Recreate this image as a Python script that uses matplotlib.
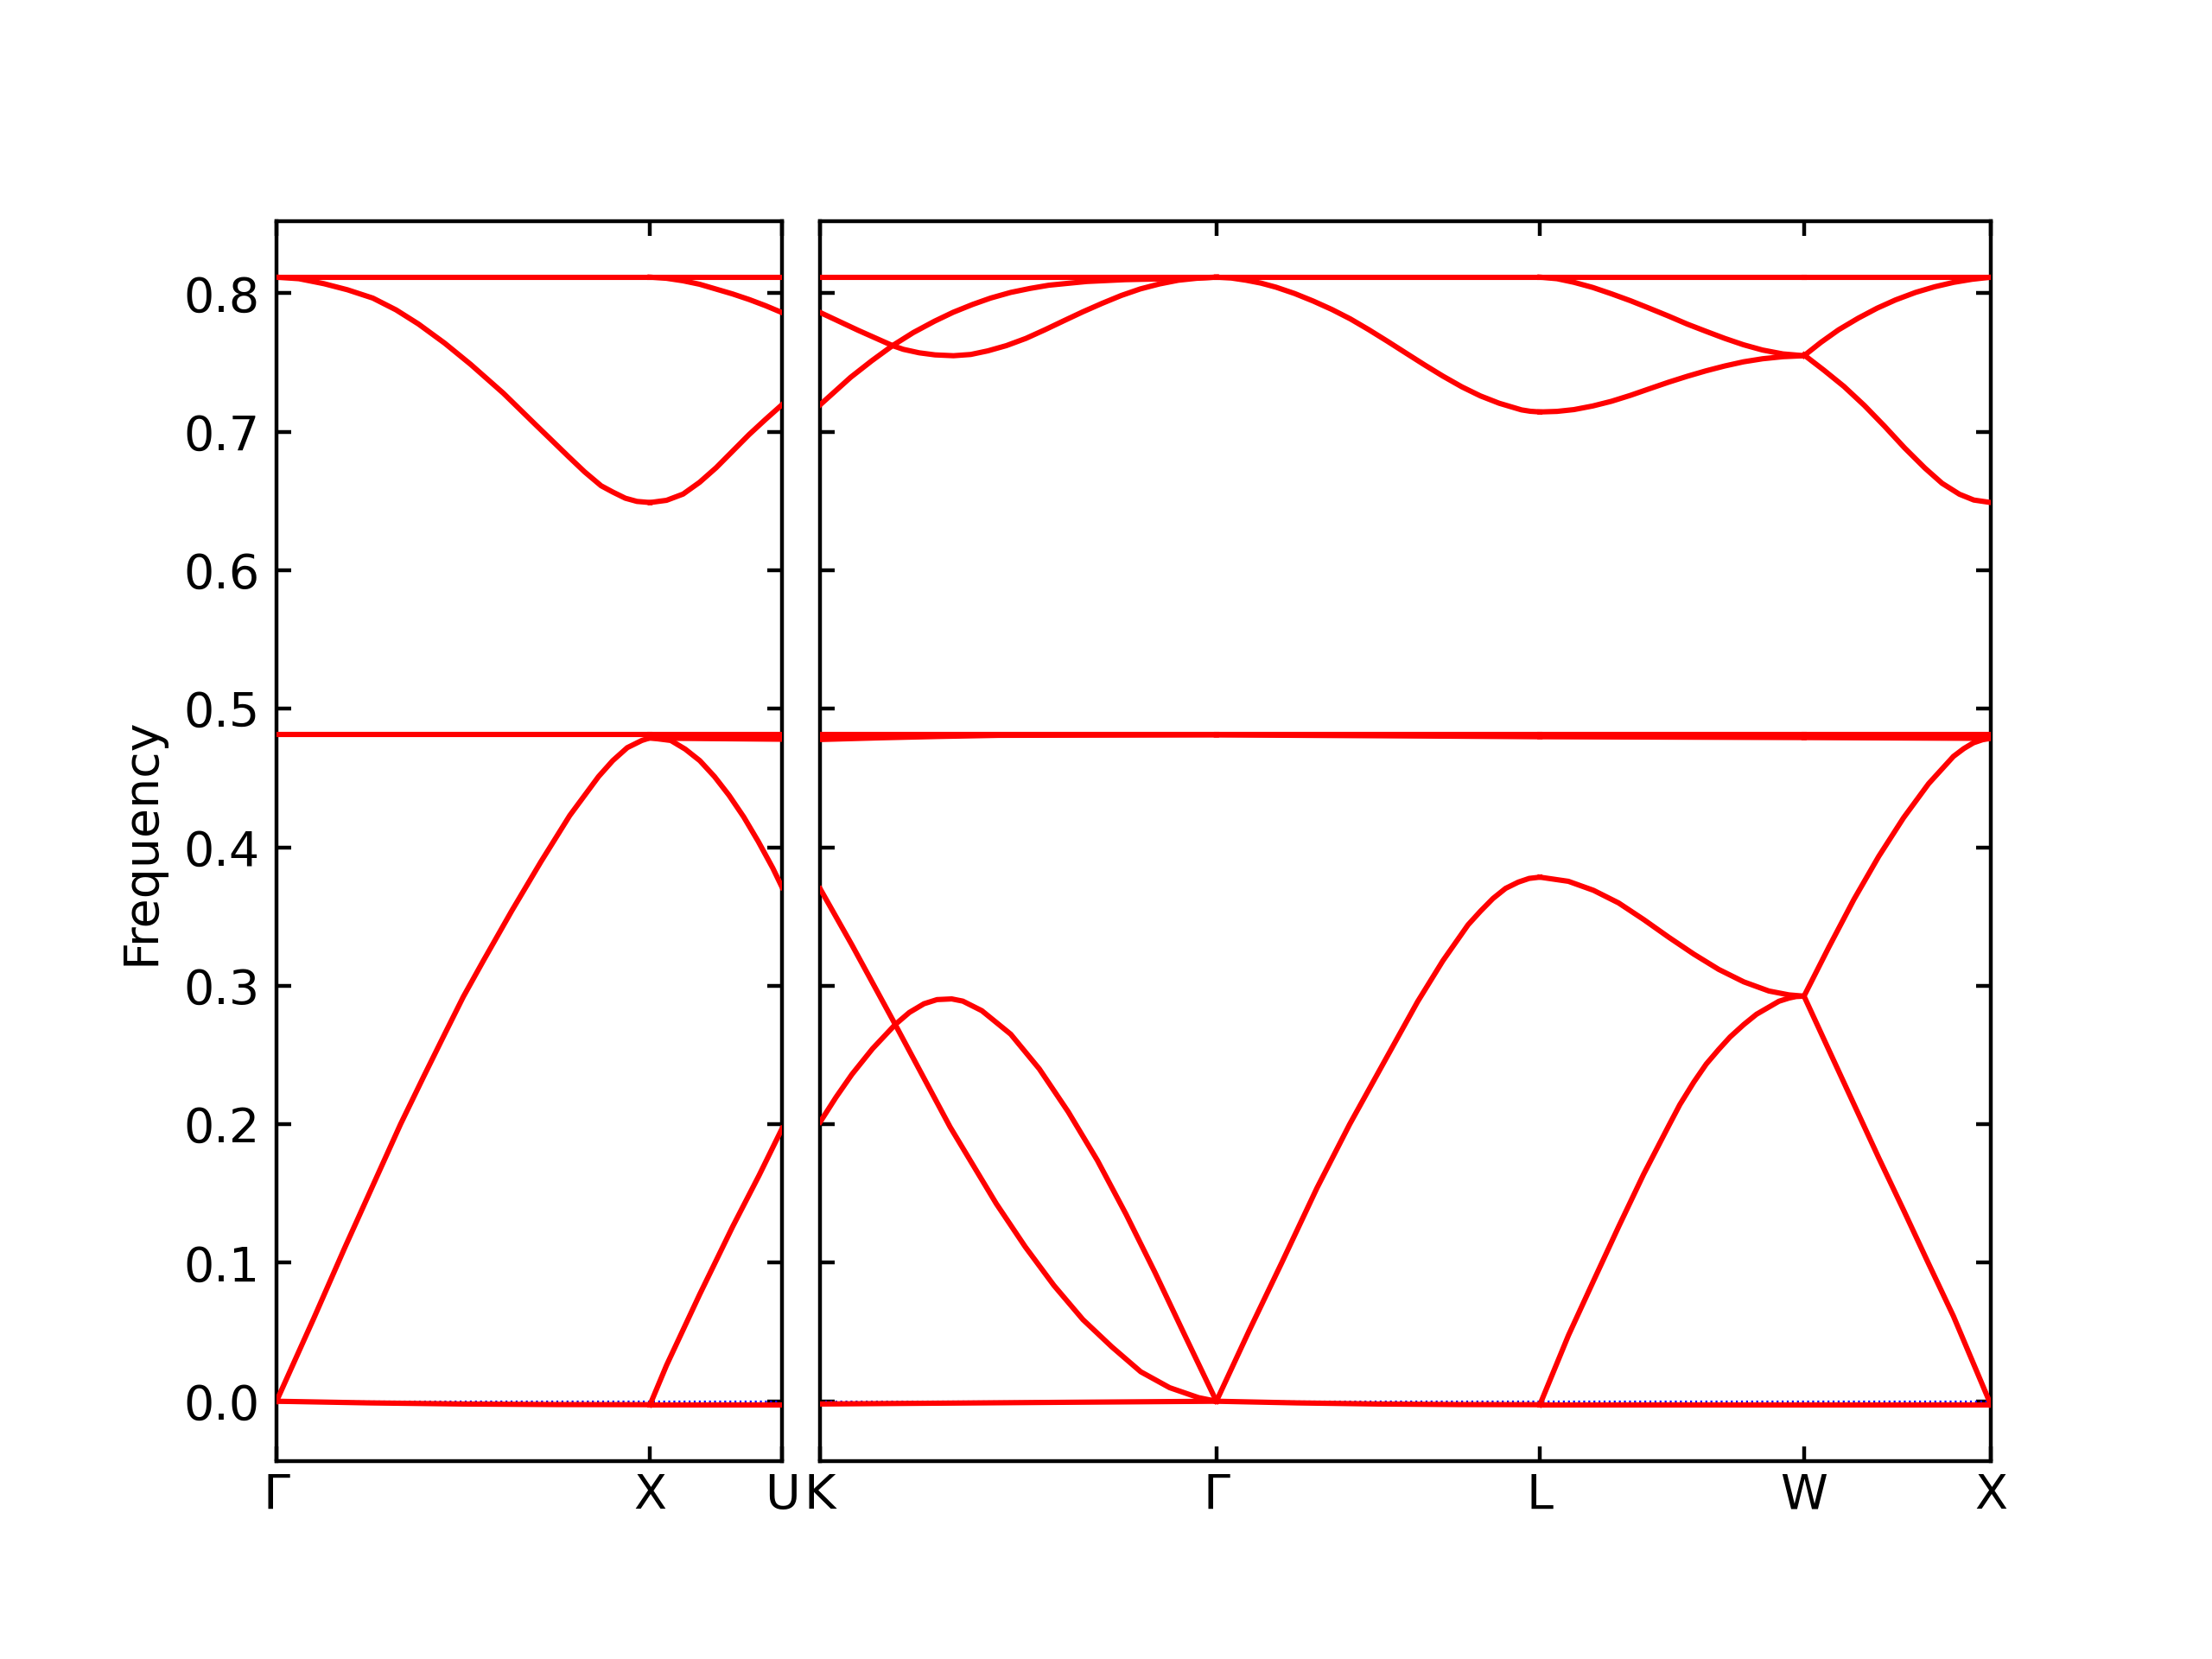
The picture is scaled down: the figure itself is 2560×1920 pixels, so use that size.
import matplotlib
matplotlib.use("Agg")
import matplotlib.pyplot as plt

# ---------------- k-path (units of 2*pi/a) ----------------
len_GX, len_XU = 1.0, 0.3536
len_KG, len_GL, len_LW, len_WX = 1.0607, 0.8660, 0.7071, 0.5
left_tick_labels = ["Γ", "X", "U"]
right_tick_labels = ["K", "Γ", "L", "W", "X"]

# ---------------- Γ-X segment (t = fraction along segment) ----------------
gx_zero_t = [0, 0.25, 0.5, 0.75, 1.0]
gx_zero_v = [0.0, -0.0012, -0.002, -0.0024, -0.0025]
gx_acoustic_t = [0, 0.1, 0.183, 0.332, 0.395, 0.450, 0.500, 0.553, 0.630, 0.708, 0.785, 0.862, 0.900,
                 0.939, 0.978, 1.0]
gx_acoustic_v = [0, 0.060, 0.111, 0.200, 0.235, 0.265, 0.292, 0.3177, 0.3542, 0.3896, 0.4229, 0.451,
                 0.4625, 0.4719, 0.4771, 0.479]
gx_flat48_t = [0, 1.0]
gx_flat48_v = [0.4812, 0.4812]
gx_opt_t = [0, 0.06, 0.127, 0.19, 0.258, 0.32, 0.380, 0.45, 0.520, 0.607, 0.694, 0.74, 0.782, 0.825,
            0.869, 0.90, 0.934, 0.965, 1.0]
gx_opt_v = [0.8116, 0.8105, 0.8069, 0.8025, 0.7965, 0.788, 0.7778, 0.764, 0.7486, 0.7279, 0.705, 0.693,
            0.682, 0.671, 0.661, 0.6565, 0.652, 0.6497, 0.6489]
gx_top_t = [0, 1.0]
gx_top_v = [0.8116, 0.8116]

# ---------------- X-U segment ----------------
xu_zero_t = [0, 1.0]
xu_zero_v = [-0.0025, -0.0025]
xu_rise_t = [0, 0.125, 0.375, 0.625, 0.825, 1.0]
xu_rise_v = [-0.0025, 0.026, 0.077, 0.126, 0.163, 0.197]
xu_fall_t = [0, 0.157, 0.267, 0.377, 0.488, 0.598, 0.709, 0.819, 0.929, 1.0]
xu_fall_v = [0.479, 0.4771, 0.4708, 0.4625, 0.451, 0.4375, 0.4219, 0.4042, 0.385, 0.371]
xu_flat48a_t = [0, 1.0]
xu_flat48a_v = [0.4812, 0.4812]
xu_flat48b_t = [0, 1.0]
xu_flat48b_v = [0.4788, 0.4780]
xu_opt_t = [0, 0.125, 0.25, 0.375, 0.5, 0.625, 0.75, 0.875, 1.0]
xu_opt_v = [0.6489, 0.6505, 0.655, 0.6635, 0.674, 0.686, 0.698, 0.709, 0.7196]
xu_optb_t = [0, 0.125, 0.25, 0.375, 0.5, 0.625, 0.75, 0.875, 1.0]
xu_optb_v = [0.8116, 0.8108, 0.809, 0.8065, 0.803, 0.7995, 0.7955, 0.791, 0.786]
xu_top_t = [0, 1.0]
xu_top_v = [0.8116, 0.8116]

# ---------------- K-Γ segment ----------------
kg_zero_t = [0, 0.5, 1.0]
kg_zero_v = [-0.002, -0.001, 0.0]
kg_low1_t = [0, 0.0801, 0.1895, 0.328, 0.4446, 0.5176, 0.590, 0.663, 0.736, 0.809, 0.882, 0.955, 1.0]
kg_low1_v = [0.370, 0.3295, 0.272, 0.198, 0.1426, 0.1115, 0.0836, 0.059, 0.0393, 0.0213, 0.0098, 0.0026, 0.0]
kg_low2_t = [0, 0.04, 0.0801, 0.132, 0.1895, 0.225, 0.262, 0.295, 0.332, 0.36, 0.408, 0.445, 0.481,
             0.553, 0.626, 0.6995, 0.772, 0.845, 0.918, 1.0]
kg_low2_v = [0.2016, 0.2195, 0.236, 0.2545, 0.272, 0.2807, 0.287, 0.2900, 0.2905, 0.2889, 0.282, 0.2734,
             0.265, 0.240, 0.209, 0.174, 0.135, 0.093, 0.049, 0.0]
kg_flat48a_t = [0, 1.0]
kg_flat48a_v = [0.4812, 0.4812]
kg_flat48b_t = [0, 0.15, 0.3, 0.45, 1.0]
kg_flat48b_v = [0.4778, 0.4790, 0.4800, 0.4808, 0.4811]
kg_up1_t = [0, 0.0962, 0.1827, 0.21, 0.25, 0.29, 0.3366, 0.38, 0.4231, 0.47, 0.5192, 0.567, 0.6154,
            0.663, 0.7115, 0.76, 0.8077, 0.856, 0.9038, 0.95, 1.0]
kg_up1_v = [0.7861, 0.7732, 0.7622, 0.7595, 0.757, 0.7555, 0.7549, 0.7558, 0.7584, 0.7622, 0.7674,
            0.7736, 0.7802, 0.7866, 0.7927, 0.7984, 0.8031, 0.8067, 0.8094, 0.8108, 0.8116]
kg_up2_t = [0, 0.0769, 0.13, 0.1827, 0.235, 0.2885, 0.336, 0.3846, 0.43, 0.4808, 0.53, 0.577, 0.673,
            0.769, 0.8654, 1.0]
kg_up2_v = [0.7195, 0.7393, 0.7512, 0.7622, 0.7716, 0.7798, 0.7863, 0.7919, 0.7965, 0.8006, 0.8035,
            0.8058, 0.8085, 0.8098, 0.8104, 0.8116]
kg_top_t = [0, 1.0]
kg_top_v = [0.8116, 0.8116]

# ---------------- Γ-L segment ----------------
gl_zero_t = [0, 0.25, 0.5, 0.75, 1.0]
gl_zero_v = [0.0, -0.0012, -0.002, -0.0024, -0.0025]
gl_acoustic_t = [0, 0.101, 0.202, 0.311, 0.412, 0.521, 0.622, 0.700, 0.778, 0.817, 0.855, 0.894,
                 0.933, 0.967, 1.0]
gl_acoustic_v = [0, 0.0508, 0.100, 0.154, 0.200, 0.246, 0.2885, 0.318, 0.344, 0.354, 0.363, 0.3703,
                 0.3748, 0.3775, 0.3784]
gl_flat48a_t = [0, 1.0]
gl_flat48a_v = [0.4812, 0.4812]
gl_flat48b_t = [0, 0.5, 1.0]
gl_flat48b_v = [0.4811, 0.4805, 0.4798]
gl_opt_t = [0, 0.046, 0.092, 0.138, 0.184, 0.242, 0.299, 0.357, 0.414, 0.471, 0.529, 0.586, 0.644,
            0.70, 0.759, 0.816, 0.874, 0.943, 0.97, 1.0]
gl_opt_v = [0.8116, 0.8110, 0.8094, 0.8073, 0.8044, 0.7998, 0.7944, 0.7883, 0.7815, 0.7737, 0.7653,
            0.7568, 0.7482, 0.7402, 0.7324, 0.7259, 0.7206, 0.7158, 0.7148, 0.7143]
gl_top_t = [0, 1.0]
gl_top_v = [0.8116, 0.8116]

# ---------------- L-W segment ----------------
lw_zero_t = [0, 1.0]
lw_zero_v = [-0.0025, -0.0025]
lw_fall_t = [0, 0.108, 0.203, 0.298, 0.393, 0.488, 0.583, 0.677, 0.772, 0.867, 0.943, 1.0]
lw_fall_v = [0.3784, 0.3754, 0.3689, 0.3598, 0.3478, 0.3350, 0.3228, 0.3118, 0.3028, 0.2962, 0.2934, 0.2925]
lw_rise_t = [0, 0.108, 0.203, 0.298, 0.393, 0.488, 0.53, 0.583, 0.63, 0.677, 0.72, 0.772, 0.82, 0.867,
             0.905, 0.943, 0.97, 1.0]
lw_rise_v = [-0.0025, 0.0475, 0.0869, 0.126, 0.164, 0.199, 0.2142, 0.2305, 0.2435, 0.254, 0.263, 0.272,
             0.2794, 0.2846, 0.2888, 0.2911, 0.2922, 0.2925]
lw_flat48a_t = [0, 1.0]
lw_flat48a_v = [0.4812, 0.4812]
lw_flat48b_t = [0, 1.0]
lw_flat48b_v = [0.4798, 0.4792]
lw_optrise_t = [0, 0.065, 0.129, 0.2, 0.271, 0.343, 0.414, 0.486, 0.557, 0.629, 0.7, 0.771, 0.843, 0.92, 1.0]
lw_optrise_v = [0.7143, 0.7147, 0.7160, 0.7186, 0.7220, 0.7263, 0.7310, 0.7357, 0.7400, 0.7440, 0.7475,
                0.7505, 0.7527, 0.7542, 0.7549]
lw_optfall_t = [0, 0.065, 0.129, 0.2, 0.271, 0.343, 0.414, 0.486, 0.557, 0.629, 0.7, 0.771, 0.843, 0.92, 1.0]
lw_optfall_v = [0.8116, 0.8105, 0.8079, 0.8042, 0.7996, 0.7946, 0.7892, 0.7836, 0.7778, 0.7725, 0.7674,
                0.7628, 0.7590, 0.7562, 0.7549]
lw_top_t = [0, 1.0]
lw_top_v = [0.8116, 0.8116]

# ---------------- W-X segment ----------------
wx_zero_t = [0, 1.0]
wx_zero_v = [-0.0025, -0.0025]
wx_rise_t = [0, 0.133, 0.267, 0.4, 0.533, 0.667, 0.8, 0.855, 0.907, 0.955, 1.0]
wx_rise_v = [0.2925, 0.3279, 0.3623, 0.3934, 0.4213, 0.4459, 0.4656, 0.4712, 0.4754, 0.4776, 0.4787]
wx_fall_t = [0, 0.133, 0.267, 0.4, 0.533, 0.667, 0.8, 1.0]
wx_fall_v = [0.2925, 0.2536, 0.2145, 0.1757, 0.138, 0.0993, 0.0614, -0.0025]
wx_flat48a_t = [0, 1.0]
wx_flat48a_v = [0.4812, 0.4812]
wx_flat48b_t = [0, 1.0]
wx_flat48b_v = [0.4792, 0.4786]
wx_optrise_t = [0, 0.09, 0.185, 0.29, 0.391, 0.49, 0.597, 0.70, 0.802, 0.90, 1.0]
wx_optrise_v = [0.7549, 0.7645, 0.7736, 0.7820, 0.7892, 0.7952, 0.8006, 0.8047, 0.8079, 0.8101, 0.8116]
wx_optfall_t = [0, 0.106, 0.214, 0.323, 0.431, 0.538, 0.647, 0.739, 0.832, 0.909, 1.0]
wx_optfall_v = [0.7555, 0.7445, 0.7327, 0.719, 0.704, 0.6884, 0.6738, 0.6628, 0.6549, 0.6507, 0.6489]
wx_top_t = [0, 1.0]
wx_top_v = [0.8116, 0.8116]

# ---------------- figure ----------------
plt.rcParams["font.family"] = ["DejaVu Sans"]
fig = plt.figure(figsize=(6.4, 4.8), dpi=400)

left_len = len_GX + len_XU
right_len = len_KG + len_GL + len_LW + len_WX
total_w = 0.775
gap = 44 / 2560
w1 = (total_w - gap) * left_len / (left_len + right_len)
w2 = total_w - gap - w1
bottom, height = 0.1193, 0.7476
ax1 = fig.add_axes([0.125, bottom, w1, height])
ax2 = fig.add_axes([0.125 + w1 + gap, bottom, w2, height], sharey=ax1)

red = "#ff0000"
lw = 1.1


def draw(ax, start, length, curves):
    for t, v in curves:
        ax.plot([start + ti * length for ti in t], v, color=red, lw=lw, zorder=3,
                solid_joinstyle="round")


for ax, xmax in ((ax1, left_len), (ax2, right_len)):
    ax.plot([0, xmax], [0, 0], color="b", ls=":", lw=0.4, zorder=2)

# left panel
draw(ax1, 0.0, len_GX, [
    (gx_zero_t, gx_zero_v), (gx_acoustic_t, gx_acoustic_v), (gx_flat48_t, gx_flat48_v),
    (gx_opt_t, gx_opt_v), (gx_top_t, gx_top_v)])
draw(ax1, len_GX, len_XU, [
    (xu_zero_t, xu_zero_v), (xu_rise_t, xu_rise_v), (xu_fall_t, xu_fall_v),
    (xu_flat48a_t, xu_flat48a_v), (xu_flat48b_t, xu_flat48b_v),
    (xu_opt_t, xu_opt_v), (xu_optb_t, xu_optb_v), (xu_top_t, xu_top_v)])

# right panel
s_KG = 0.0
s_GL = len_KG
s_LW = len_KG + len_GL
s_WX = len_KG + len_GL + len_LW
draw(ax2, s_KG, len_KG, [
    (kg_zero_t, kg_zero_v), (kg_low1_t, kg_low1_v), (kg_low2_t, kg_low2_v),
    (kg_flat48a_t, kg_flat48a_v), (kg_flat48b_t, kg_flat48b_v),
    (kg_up1_t, kg_up1_v), (kg_up2_t, kg_up2_v), (kg_top_t, kg_top_v)])
draw(ax2, s_GL, len_GL, [
    (gl_zero_t, gl_zero_v), (gl_acoustic_t, gl_acoustic_v),
    (gl_flat48a_t, gl_flat48a_v), (gl_flat48b_t, gl_flat48b_v),
    (gl_opt_t, gl_opt_v), (gl_top_t, gl_top_v)])
draw(ax2, s_LW, len_LW, [
    (lw_zero_t, lw_zero_v), (lw_fall_t, lw_fall_v), (lw_rise_t, lw_rise_v),
    (lw_flat48a_t, lw_flat48a_v), (lw_flat48b_t, lw_flat48b_v),
    (lw_optrise_t, lw_optrise_v), (lw_optfall_t, lw_optfall_v), (lw_top_t, lw_top_v)])
draw(ax2, s_WX, len_WX, [
    (wx_zero_t, wx_zero_v), (wx_rise_t, wx_rise_v), (wx_fall_t, wx_fall_v),
    (wx_flat48a_t, wx_flat48a_v), (wx_flat48b_t, wx_flat48b_v),
    (wx_optrise_t, wx_optrise_v), (wx_optfall_t, wx_optfall_v), (wx_top_t, wx_top_v)])

ax1.set_xlim(0, left_len)
ax2.set_xlim(0, right_len)
ax1.set_xticks([0, len_GX, left_len])
ax1.set_xticklabels(left_tick_labels)
ax2.set_xticks([0, s_GL, s_LW, s_WX, right_len])
ax2.set_xticklabels(right_tick_labels)

for ax in (ax1, ax2):
    ax.tick_params(direction="in", top=True, right=True, length=3.0, width=0.8,
                   labelsize=10)
    ax.tick_params(axis="x", pad=2.3)
    for sp in ax.spines.values():
        sp.set_linewidth(0.8)
ax2.tick_params(labelleft=False)
ax1.set_ylabel("Frequency", fontsize=10)

fig.savefig("out.png", dpi=400)
